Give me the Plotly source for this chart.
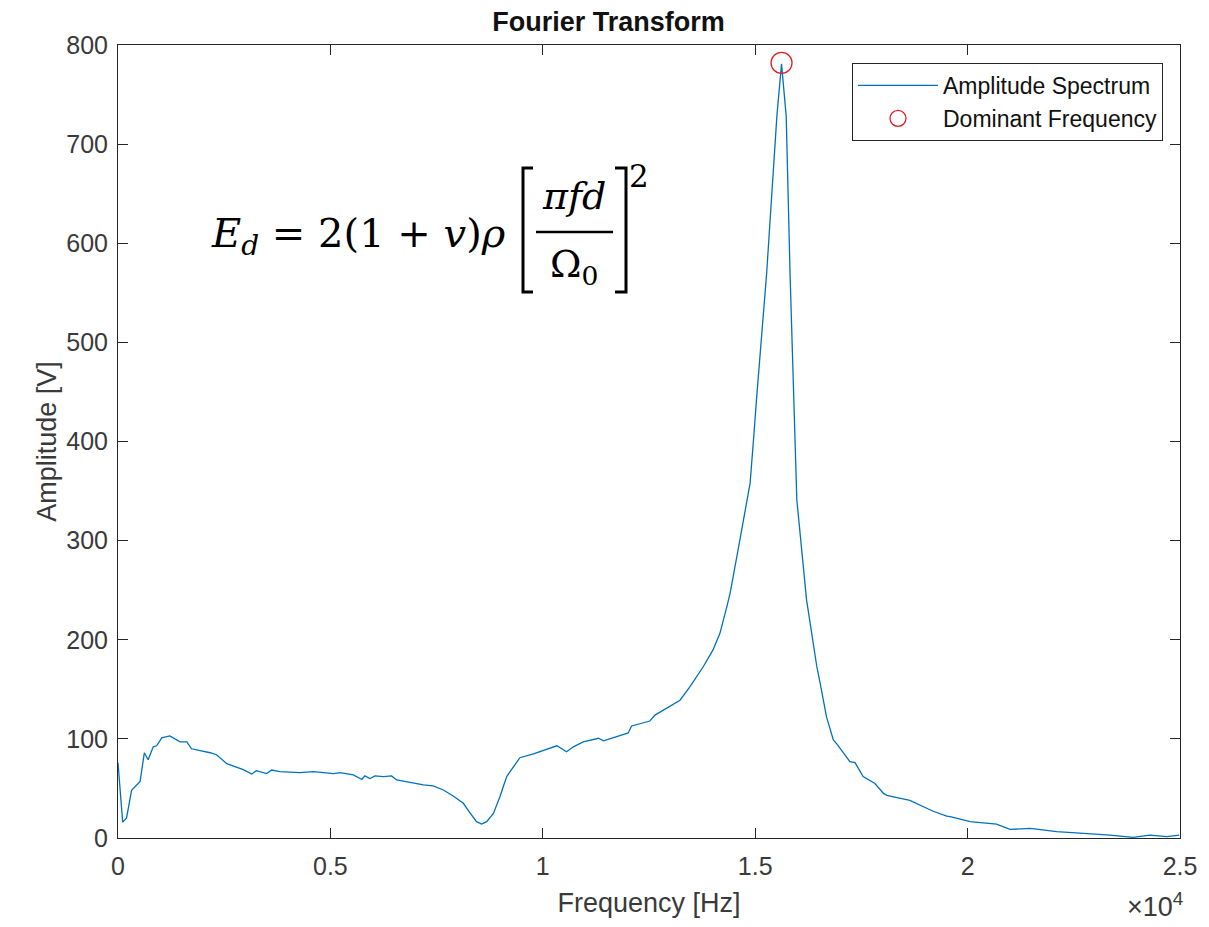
import plotly.graph_objects as go

# ---------------- data ----------------
freq_hz = [0, 110, 200, 320, 520, 620, 710, 830, 910, 1030, 1220, 1460, 1620, 1730,
           2170, 2320, 2560, 2950, 3150, 3260, 3500, 3620, 3810, 4280, 4600, 5070,
           5230, 5540, 5740, 5810, 5930, 6050, 6250, 6440, 6560, 6870, 7190, 7420,
           7660, 7890, 8130, 8290, 8440, 8560, 8680, 8840, 8990, 9150, 9460, 9780,
           10090, 10330, 10560, 10720, 10950, 11310, 11430, 11740, 12010, 12090,
           12520, 12640, 12990, 13230, 13470, 13780, 14010, 14170, 14330, 14410,
           14640, 14880, 14960, 15030, 15270, 15510, 15620, 15730, 15820, 15900,
           15940, 15980, 16210, 16450, 16530, 16680, 16840, 16920, 17230, 17350,
           17540, 17620, 17820, 18020, 18100, 18640, 18960, 19190, 19510, 19590,
           20060, 20680, 21000, 21470, 22100, 22720, 23350, 23900, 24290, 24690,
           24980]
amplitude_v = [76, 16, 20, 48, 57, 86, 79, 92, 93, 101, 103, 97, 97, 90,
               86, 84, 75, 69, 64.6, 68, 65, 68.6, 67, 66, 67, 65,
               66, 63.6, 59, 62.7, 60, 62.6, 62, 62.6, 58.5, 55.8, 53.5, 52.5,
               48.4, 42.4, 35, 25, 16.5, 14, 16.5, 25, 41.7, 62, 81, 84.8,
               89.5, 93, 87, 92, 97, 100.6, 98, 102, 106, 113,
               118, 124, 133, 139, 153, 173, 190, 206.5, 233, 247,
               300.7, 358, 401.6, 442, 570, 728, 781, 728, 570, 442,
               401.6, 341, 240, 173, 156, 122, 99, 95, 77, 76,
               62, 60, 55, 45, 43, 38, 32, 27, 22, 21.5,
               16.5, 14, 8.7, 9.7, 6.4, 4.7, 3, 0.7, 3, 1.3,
               3]

peak_freq = [15620]
peak_amp = [782]

x_tickvals = [0, 5000, 10000, 15000, 20000, 25000]
x_ticktext = ["0", "0.5", "1", "1.5", "2", "2.5"]
y_tickvals = [0, 100, 200, 300, 400, 500, 600, 700, 800]

# ---------------- layout geometry ----------------
# the page body has an 8px margin, so the figure starts at (8, 8)
OFF = 8
W, H = 1209 - OFF, 927 - OFF
L, R, T, B = 118, 1180, 45, 838   # plot area in window pixels


def px(x):
    return (x - L) / (R - L)


def py(y):
    return (B - y) / (B - T)


axis_col = "#262626"
text_col = "#3a3a3a"
sans = "Liberation Sans, Arial, sans-serif"
serif = "DejaVu Serif, serif"

fig = go.Figure()
fig.add_trace(go.Scatter(
    x=freq_hz, y=amplitude_v, mode="lines", name="Amplitude Spectrum",
    line=dict(color="#0072BD", width=1.3),
))
fig.add_trace(go.Scatter(
    x=peak_freq, y=peak_amp, mode="markers", name="Dominant Frequency",
    marker=dict(symbol="circle-open", size=21, color="#E02020",
                line=dict(width=1.3, color="#E02020")),
))

axis_common = dict(
    showline=True, linecolor=axis_col, linewidth=1, mirror="allticks",
    ticks="inside", ticklen=10, tickwidth=1, tickcolor=axis_col,
    showgrid=False, zeroline=False,
    tickfont=dict(family=sans, size=25, color=text_col),
)

fig.update_layout(
    width=W, height=H,
    margin=dict(l=L - OFF, r=1209 - R, t=T - OFF, b=927 - B),
    paper_bgcolor="white", plot_bgcolor="white",
    title=dict(text="<b>Fourier Transform</b>", x=0.5, xanchor="center",
               y=1 - (22 - OFF) / H, yanchor="middle",
               font=dict(family=sans, size=27, color="#111111")),
    xaxis=dict(range=[0, 25000], tickvals=x_tickvals, ticktext=x_ticktext,
               title=dict(text="Frequency [Hz]", standoff=14,
                          font=dict(family=sans, size=27, color=text_col)),
               ticklabelstandoff=6, **axis_common),
    yaxis=dict(range=[0, 800], tickvals=y_tickvals,
               title=dict(text="Amplitude [V]", standoff=1,
                          font=dict(family=sans, size=27, color=text_col)),
               ticklabelstandoff=4, **axis_common),
    showlegend=True,
    legend=dict(x=px(1163), xanchor="right", y=py(63), yanchor="top",
                bgcolor="white", bordercolor=axis_col, borderwidth=1,
                font=dict(family=sans, size=23, color="#111111"),
                itemwidth=80, tracegroupgap=0),
)

annotations = []
# x10^4 exponent label
annotations.append(dict(
    text="×10<sup>4</sup>", xref="paper", yref="paper",
    x=px(1185), y=py(905), xanchor="right", yanchor="middle",
    showarrow=False, font=dict(family=sans, size=27, color=text_col)))

# Formula: E_d = 2(1 + v) rho [ pi f d / Omega_0 ]^2
annotations.append(dict(
    text="<i>E</i><sub><i>d</i></sub> = 2(1 + <i>v</i>)<i>ρ</i>",
    xref="paper", yref="paper", x=px(209), y=py(236),
    xanchor="left", yanchor="middle", showarrow=False,
    font=dict(family=serif, size=40, color="black")))
annotations.append(dict(
    text="<i>πfd</i>", xref="paper", yref="paper", x=px(574), y=py(196),
    xanchor="center", yanchor="middle", showarrow=False,
    font=dict(family=serif, size=38, color="black")))
annotations.append(dict(
    text="Ω<sub>0</sub>", xref="paper", yref="paper", x=px(574), y=py(266),
    xanchor="center", yanchor="middle", showarrow=False,
    font=dict(family=serif, size=38, color="black")))
annotations.append(dict(
    text="2", xref="paper", yref="paper", x=px(639), y=py(176),
    xanchor="center", yanchor="middle", showarrow=False,
    font=dict(family=serif, size=31, color="black")))
fig.update_layout(annotations=annotations)


# bracket and fraction-bar strokes of the formula
def path(points):
    return "M " + " L ".join(f"{px(a):.5f},{py(b):.5f}" for a, b in points)


shapes = [
    dict(type="path", xref="paper", yref="paper",
         path=path([(533, 168), (523, 168), (523, 292), (533, 292)]),
         line=dict(color="black", width=3)),
    dict(type="path", xref="paper", yref="paper",
         path=path([(615, 168), (626, 168), (626, 292), (615, 292)]),
         line=dict(color="black", width=3)),
    dict(type="line", xref="paper", yref="paper",
         x0=px(536), x1=px(613), y0=py(232), y1=py(232),
         line=dict(color="black", width=2.5)),
]
fig.update_layout(shapes=shapes)

fig.write_html("out.html")
